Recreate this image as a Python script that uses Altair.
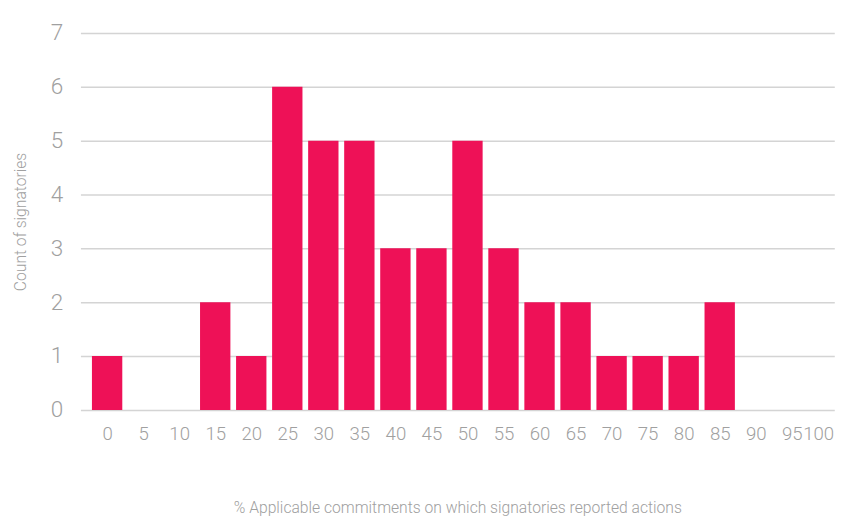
import altair as alt
import pandas as pd

pct = [0, 5, 10, 15, 20, 25, 30, 35, 40, 45, 50,
       55, 60, 65, 70, 75, 80, 85, 90, 95, 100]
counts = [1, 0, 0, 2, 1, 6, 5, 5, 3, 3, 5, 3, 2, 2, 1, 1, 1, 2, 0, 0, 0]

df = pd.DataFrame({"pct": pct, "count": counts})

FONT = "Roboto"
GRAY = "#a0a0a0"

chart = alt.Chart(df).mark_bar(color="#EE1157", size=31).encode(
    x=alt.X("pct:Q", scale=alt.Scale(domain=[-3.7, 100.9], nice=False, zero=False, padding=0),
            axis=alt.Axis(title="% Applicable commitments on which signatories reported actions",
                          values=pct, labelAngle=0, domain=False, ticks=False, grid=False,
                          labelPadding=15, titlePadding=58, labelFontSize=19, titleFontSize=16,
                          labelColor=GRAY, titleColor=GRAY, labelFont=FONT, titleFont=FONT,
                          labelFontWeight=300, titleFontWeight=300, labelFlush=10,
                          labelFlushOffset=6, labelOverlap=False)),
    y=alt.Y("count:Q", scale=alt.Scale(domain=[0, 7], nice=False),
            axis=alt.Axis(title="Count of signatories", values=[0, 1, 2, 3, 4, 5, 6, 7],
                          domain=False, ticks=False, labelPadding=18, titlePadding=22,
                          labelFontSize=23, titleFontSize=16, labelColor=GRAY,
                          titleColor=GRAY, labelFont=FONT, titleFont=FONT,
                          labelFontWeight=300, titleFontWeight=300,
                          gridColor="#d4d4d4", gridWidth=1.5)),
).properties(
    width=770, height=385,
    autosize=alt.AutoSizeParams(type="none"),
    padding={"left": 74, "top": 20, "right": 14, "bottom": 110},
).configure_view(stroke=None)

chart.save("out.html", embed_options={"renderer": "svg", "actions": False})
